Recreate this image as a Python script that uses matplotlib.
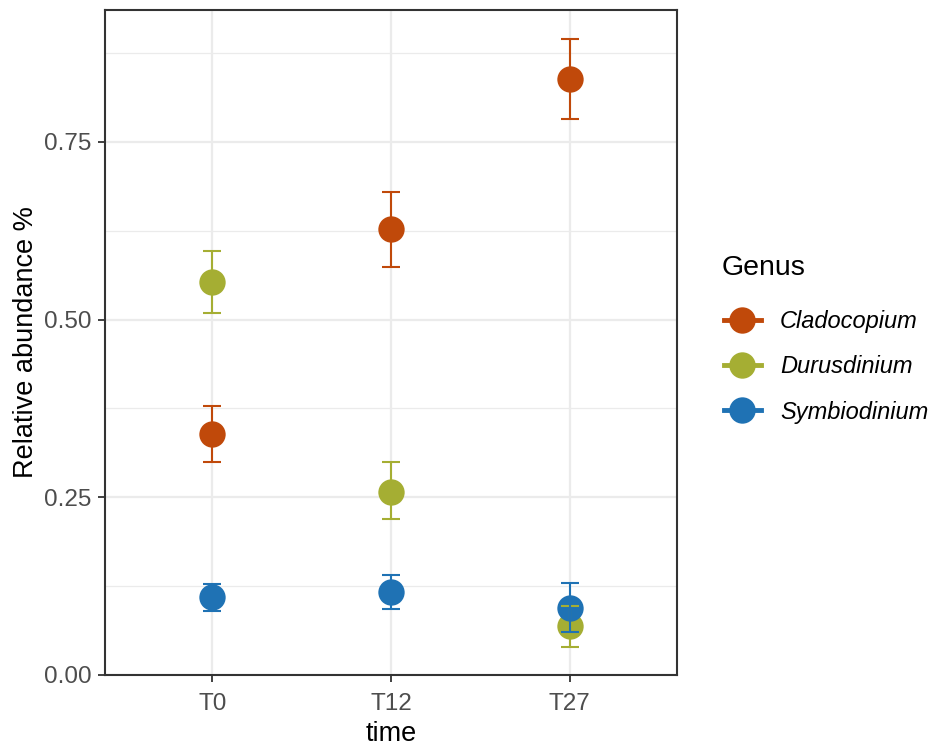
import matplotlib
matplotlib.use("Agg")
import matplotlib.pyplot as plt
from matplotlib.lines import Line2D
from matplotlib.ticker import MultipleLocator

plt.rcParams["font.family"] = ["Liberation Sans", "DejaVu Sans"]

times = ["T0", "T12", "T27"]
genera = ["Cladocopium", "Durusdinium", "Symbiodinium"]
colors = {"Cladocopium": "#c0490a", "Durusdinium": "#a5ae33", "Symbiodinium": "#1f72b4"}

mean = {
    "Cladocopium": [0.339, 0.627, 0.838],
    "Durusdinium": [0.553, 0.258, 0.069],
    "Symbiodinium": [0.110, 0.117, 0.094],
}
lower = {
    "Cladocopium": [0.300, 0.574, 0.782],
    "Durusdinium": [0.510, 0.219, 0.040],
    "Symbiodinium": [0.090, 0.093, 0.061],
}
upper = {
    "Cladocopium": [0.378, 0.680, 0.895],
    "Durusdinium": [0.596, 0.299, 0.097],
    "Symbiodinium": [0.128, 0.141, 0.129],
}

fig = plt.figure(figsize=(9.34, 7.47), dpi=100)
ax = fig.add_axes([0.1124, 0.0964, 0.6124, 0.8902])

xs = list(range(1, len(times) + 1))

# points first, error bars on top (as in the source plot)
for g in genera:
    ax.scatter(xs, mean[g], s=360, color=colors[g], zorder=3, linewidths=0)
for g in genera:
    for x, lo, hi in zip(xs, lower[g], upper[g]):
        ax.plot([x, x], [lo, hi], color=colors[g], lw=1.5, zorder=4, solid_capstyle="butt")
        for y in (lo, hi):
            ax.plot([x - 0.05, x + 0.05], [y, y], color=colors[g], lw=1.5, zorder=4,
                    solid_capstyle="butt")

ax.set_xlim(0.4, 3.6)
ax.set_ylim(0.0, 0.9357)
ax.set_xticks(xs)
ax.set_xticklabels(times)
ax.yaxis.set_minor_locator(MultipleLocator(0.125))
ax.set_yticks([0, 0.25, 0.5, 0.75])
ax.set_yticklabels(["0.00", "0.25", "0.50", "0.75"])

ax.grid(which="major", color="#ebebeb", lw=1.6, zorder=0)
ax.grid(which="minor", axis="y", color="#ebebeb", lw=0.9, zorder=0)
ax.set_axisbelow(True)
ax.tick_params(which="minor", length=0)
ax.tick_params(which="major", length=5, width=1.3, color="#333333",
               labelsize=17.5, labelcolor="#4d4d4d")
ax.tick_params(axis="x", pad=8)
ax.tick_params(axis="y", pad=4.5)
for sp in ax.spines.values():
    sp.set_color("#333333")
    sp.set_linewidth(1.5)

ax.set_xlabel("time", fontsize=19.5, labelpad=4)
ax.set_ylabel("Relative abundance %", fontsize=19.5, labelpad=3.5)

# legend: title placed separately so the gap to the entries can match
fig.text(722 / 934, 1 - 268 / 747, "Genus", fontsize=20.5, ha="left", va="center")
handles = [
    Line2D([0], [0], color=colors[g], marker="o", markersize=19, lw=3.5,
           markeredgewidth=0, label=g)
    for g in genera
]
leg = fig.legend(handles=handles, loc="upper left",
                 bbox_to_anchor=(0.762, 1 - 298 / 747), frameon=False,
                 prop={"style": "italic", "size": 17}, borderpad=0,
                 handlelength=1.6, labelspacing=0.95, handletextpad=0.8)

fig.savefig("out.png", dpi=100)
